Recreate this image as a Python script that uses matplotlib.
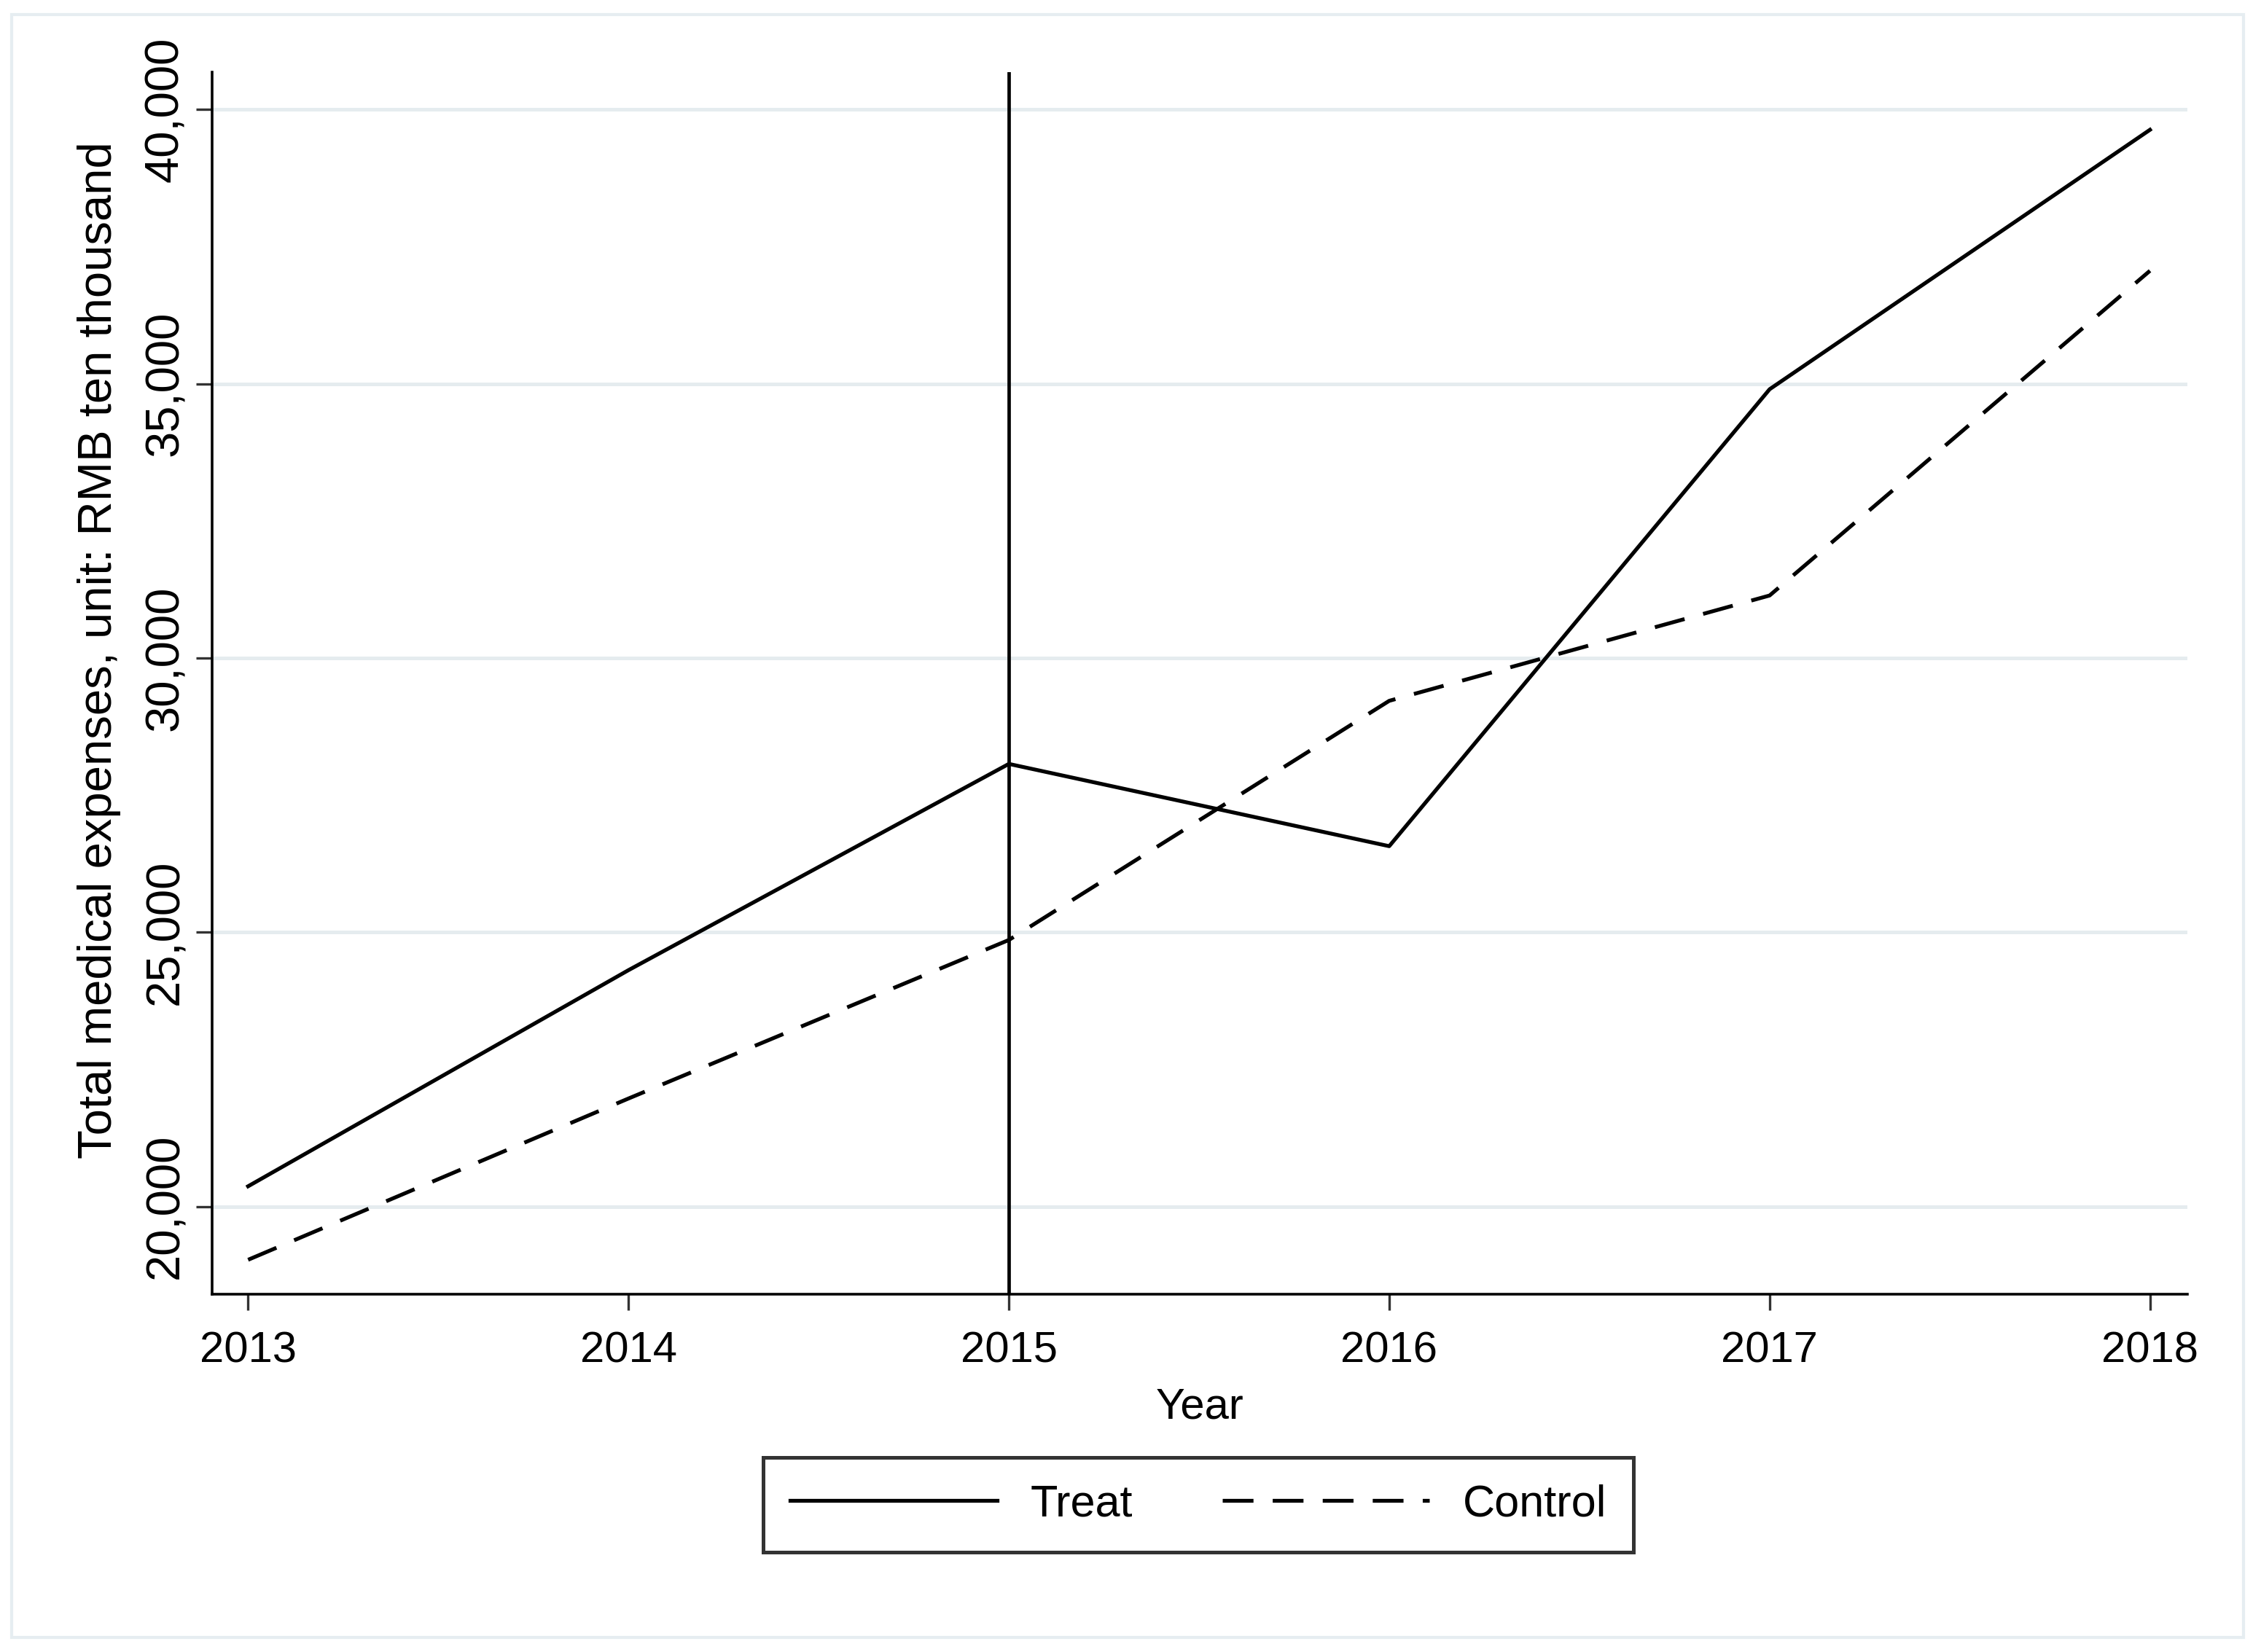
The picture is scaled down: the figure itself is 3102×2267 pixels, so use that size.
import matplotlib
matplotlib.use("Agg")
import matplotlib.pyplot as plt
from matplotlib.patches import Rectangle
from matplotlib.ticker import FuncFormatter

# Daten
years = [2013, 2014, 2015, 2016, 2017, 2018]
treat = [20370, 24310, 28070, 26570, 34900, 39630]
control = [19030, 21970, 24860, 29220, 31140, 37060]
yticks = [20000, 25000, 30000, 35000, 40000]
policy_year = 2015

plt.rcParams['font.family'] = ['Liberation Sans', 'DejaVu Sans']

fig = plt.figure(figsize=(15.51, 11.335), dpi=200)
ax = fig.add_axes([0.09375, 0.2164, 0.8738, 0.74])

grid_col = '#e5ecef'
for yv in yticks:
    ax.axhline(yv, color=grid_col, lw=1.8, zorder=0)

ax.plot(years, treat, color='black', lw=1.9, label='Treat', zorder=3)
ax.plot(years, control, color='black', lw=1.9, dashes=(8, 5), label='Control', zorder=3)
ax.axvline(policy_year, color='black', lw=1.7, zorder=2)

ax.set_xlim(2012.905, 2018.099)
ax.set_ylim(18397, 40683)
ax.set_xticks(years)
ax.set_yticks(yticks)
ax.yaxis.set_major_formatter(FuncFormatter(lambda v, p: f'{int(v):,}'))
ax.tick_params(axis='x', labelsize=21.5, length=8, width=1.2, color='#333333', pad=10)
ax.tick_params(axis='y', labelsize=23.5, length=8, width=1.2, color='#333333', pad=4)
for lab in ax.get_yticklabels():
    lab.set_rotation(90)
    lab.set_va('center')

for side in ['top', 'right']:
    ax.spines[side].set_visible(False)
for side in ['left', 'bottom']:
    ax.spines[side].set_linewidth(1.3)

ax.set_xlabel('Year', fontsize=21.5, labelpad=8)
ax.set_ylabel('Total medical expenses, unit: RMB ten thousand', fontsize=23.5)
ax.yaxis.set_label_coords(-0.046, 0.527)

leg = fig.legend(loc='center', bbox_to_anchor=(0.530, 0.089), ncol=2, fontsize=22,
                 handlelength=4.65, handletextpad=0.75, columnspacing=2.0,
                 frameon=True, fancybox=False, borderpad=0.6)
leg.get_frame().set_edgecolor('black')
leg.get_frame().set_linewidth(1.8)

# aeusserer Rahmen
fig.patches.append(Rectangle((0.0051, 0.0087), 0.9872, 0.9826, transform=fig.transFigure,
                             fill=False, edgecolor='#e6edf1', lw=1.5))

fig.savefig('out.png', dpi=200)
